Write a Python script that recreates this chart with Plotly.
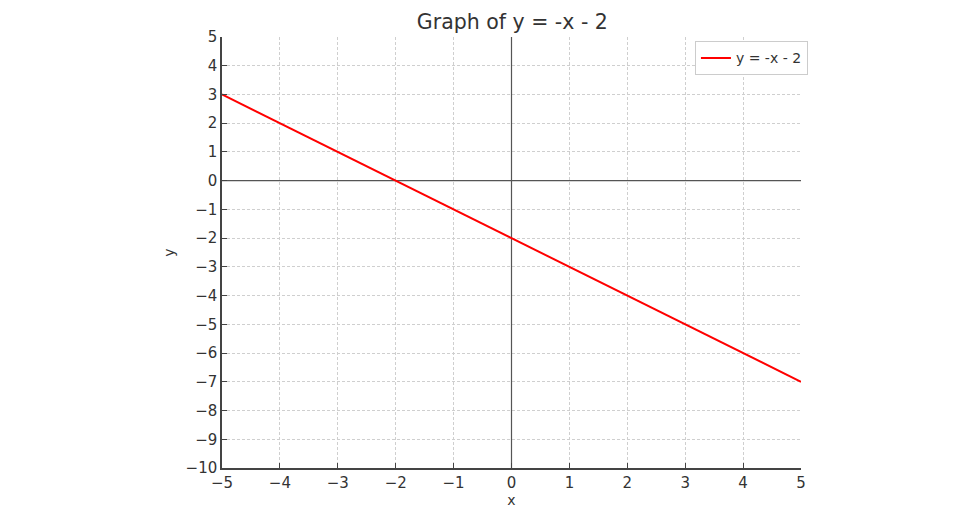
import plotly.graph_objects as go

x_vals = [-5, -4, -3, -2, -1, 0, 1, 2, 3, 4, 5]
y_vals = [3, 2, 1, 0, -1, -2, -3, -4, -5, -6, -7]
x_ticks = list(range(-5, 6))
y_ticks = list(range(-10, 6))
minus = "\u2212"
x_tick_text = [str(v).replace("-", minus) for v in x_ticks]
y_tick_text = [str(v).replace("-", minus) for v in y_ticks]

fig = go.Figure()
fig.add_trace(go.Scatter(x=x_vals, y=y_vals, mode="lines", name="y = -x - 2",
                         line=dict(color="red", width=2)))

font = "DejaVu Sans, sans-serif"
fig.update_layout(
    width=964, height=514,
    margin=dict(l=222, r=163, t=37, b=46, autoexpand=False),
    paper_bgcolor="white", plot_bgcolor="white",
    title=dict(text="Graph of y = -x - 2", x=0.5315, xanchor="center", y=0.957, yanchor="middle",
               font=dict(family=font, size=20.5, color="#333333")),
    font=dict(family=font, color="#333333"),
    showlegend=True,
    legend=dict(x=1.012, y=0.99, xanchor="right", yanchor="top",
                bgcolor="white", bordercolor="#cccccc", borderwidth=1,
                itemwidth=30, entrywidth=80,
                font=dict(family=font, size=14, color="#333333")),
    shapes=[
        dict(type="line", xref="x", yref="y", x0=-5, x1=5, y0=0, y1=0,
             line=dict(color="#555555", width=1.2), layer="between"),
        dict(type="line", xref="x", yref="y", x0=0, x1=0, y0=-10, y1=5,
             line=dict(color="#555555", width=1.2), layer="between"),
    ],
)
fig.update_xaxes(range=[-5, 5], tickvals=x_ticks, ticktext=x_tick_text, automargin=False,
                 showgrid=True, gridcolor="#cfcfcf", griddash="3px,2px", gridwidth=0.8,
                 zeroline=False, showline=True, linecolor="#444444", linewidth=1.5,
                 ticks="inside", ticklen=5, tickcolor="#444444",
                 tickfont=dict(family=font, size=15, color="#333333"),
                 title=dict(text="x", font=dict(family=font, size=14, color="#333333"), standoff=3))
fig.update_yaxes(range=[-10, 5], tickvals=y_ticks, ticktext=y_tick_text, automargin=False,
                 showgrid=True, gridcolor="#cfcfcf", griddash="3px,2px", gridwidth=0.8,
                 zeroline=False, showline=True, linecolor="#444444", linewidth=1.5,
                 ticks="inside", ticklen=5, tickcolor="#444444",
                 tickfont=dict(family=font, size=15, color="#333333"),
                 title=dict(text="y", font=dict(family=font, size=14, color="#333333"), standoff=8))

fig.write_html("out.html", post_script="document.body.style.margin='0';",
               config={"displayModeBar": False})
